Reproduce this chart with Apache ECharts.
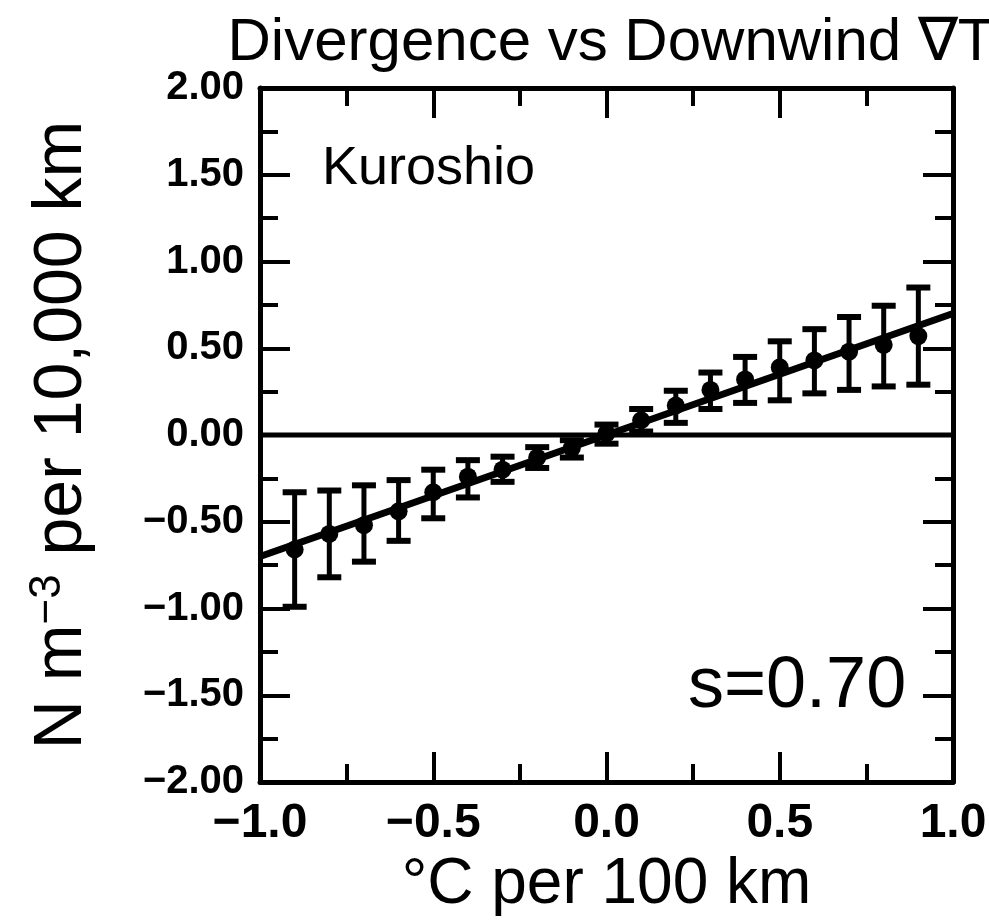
<!DOCTYPE html>
<html>
<head>
<meta charset="utf-8">
<script src="https://cdn.jsdelivr.net/npm/echarts@6/dist/echarts.min.js"></script>
<style>
  html, body { margin: 0; padding: 0; background: #fff; }
  #chart { width: 989px; height: 920px; }
</style>
</head>
<body>
<div id="chart"></div>
<script>
// Binned downwind SST gradient (°C per 100 km)
const gradBins = [-0.9, -0.8, -0.7, -0.6, -0.5, -0.4, -0.3, -0.2, -0.1, 0.0,
                  0.1, 0.2, 0.3, 0.4, 0.5, 0.6, 0.7, 0.8, 0.9];
// Bin-mean divergence (N m^-3 per 10,000 km)
const divMean = [-0.66, -0.57, -0.52, -0.44, -0.33, -0.24, -0.20, -0.13, -0.075, 0.01,
                 0.085, 0.17, 0.26, 0.32, 0.39, 0.43, 0.48, 0.52, 0.57];
// Error-bar limits
const divLow  = [-0.99, -0.82, -0.73, -0.61, -0.48, -0.36, -0.27, -0.19, -0.13, -0.05,
                 0.02, 0.07, 0.15, 0.185, 0.20, 0.24, 0.26, 0.28, 0.29];
const divHigh = [-0.33, -0.32, -0.29, -0.26, -0.20, -0.145, -0.125, -0.07, -0.03, 0.06,
                 0.15, 0.255, 0.36, 0.45, 0.54, 0.61, 0.68, 0.745, 0.85];
// Regression slope
const slope = 0.70;
const regionName = 'Kuroshio';

const xTicks = { min: -1, max: 1, interval: 0.5 };
const yTicks = { min: -2, max: 2, interval: 0.5 };

const minus = s => s.replace('-', '\u2212');
const FONT = '"Liberation Sans", Arial, Helvetica, sans-serif';
const BLACK = '#000';

function axisBase(decimals, showLabel, pos, labelSize) {
  return {
    type: 'value',
    position: pos,
    axisLine: { show: true, onZero: false, lineStyle: { color: BLACK, width: 5 } },
    axisTick: { show: true, inside: true, length: 30, lineStyle: { color: BLACK, width: 4 } },
    minorTick: { show: true, splitNumber: 2, length: 18, lineStyle: { color: BLACK, width: 4 } },
    splitLine: { show: false },
    minorSplitLine: { show: false },
    axisLabel: {
      show: showLabel,
      formatter: v => minus(v.toFixed(decimals)),
      fontFamily: FONT, fontSize: labelSize, fontWeight: 'bold', color: BLACK
    }
  };
}

const xBottom = Object.assign(axisBase(1, true, 'bottom', 48), xTicks, {
  name: '°C per 100 km', nameLocation: 'middle', nameGap: 70,
  nameTextStyle: { fontFamily: FONT, fontSize: 64, color: BLACK }
});
xBottom.axisLabel.margin = 18;
const xTop = Object.assign(axisBase(1, false, 'top', 48), xTicks);

const yLeft = Object.assign(axisBase(2, true, 'left', 40), yTicks, {
  name: '{t|N m}{s|\u22123}{t| per 10,000 km}', nameLocation: 'middle', nameGap: 162, nameRotate: 90,
  nameTextStyle: {
    rich: {
      t: { fontFamily: FONT, fontSize: 68, color: BLACK },
      s: { fontFamily: FONT, fontSize: 44, color: BLACK, verticalAlign: 'top', padding: [0, 0, 28, 0] }
    }
  }
});
yLeft.axisLabel.margin = 16;
const yRight = Object.assign(axisBase(2, false, 'right', 40), yTicks);

const points = gradBins.map((x, i) => [x, divMean[i]]);
const bars = gradBins.map((x, i) => [x, divLow[i], divHigh[i]]);

const option = {
  backgroundColor: '#fff',
  animation: false,
  title: {
    text: 'Divergence vs Downwind \u2207T',
    left: 606, top: 8, textAlign: 'center',
    textStyle: { fontFamily: FONT, fontSize: 60, fontWeight: 'normal', color: BLACK }
  },
  grid: { left: 260, right: 36, top: 88, bottom: 138, containLabel: false, outerBoundsMode: 'none' },
  xAxis: [xBottom, xTop],
  yAxis: [yLeft, yRight],
  series: [
    {
      type: 'line', data: [[xTicks.min, 0], [xTicks.max, 0]],
      symbol: 'none', lineStyle: { color: BLACK, width: 5 }, z: 2
    },
    {
      type: 'line', data: [[xTicks.min, slope * xTicks.min], [xTicks.max, slope * xTicks.max]],
      symbol: 'none', lineStyle: { color: BLACK, width: 7 }, z: 3
    },
    {
      type: 'custom', data: bars, z: 4,
      renderItem: (params, api) => {
        const x = api.value(0);
        const lo = api.coord([x, api.value(1)]);
        const hi = api.coord([x, api.value(2)]);
        const hw = 12;
        const style = { stroke: BLACK, lineWidth: 5 };
        const cap = { stroke: BLACK, lineWidth: 6 };
        return {
          type: 'group',
          children: [
            { type: 'line', shape: { x1: lo[0], y1: lo[1], x2: hi[0], y2: hi[1] }, style },
            { type: 'line', shape: { x1: lo[0] - hw, y1: lo[1], x2: lo[0] + hw, y2: lo[1] }, style: cap },
            { type: 'line', shape: { x1: hi[0] - hw, y1: hi[1], x2: hi[0] + hw, y2: hi[1] }, style: cap }
          ]
        };
      }
    },
    {
      type: 'scatter', data: points, symbol: 'circle', symbolSize: 18,
      itemStyle: { color: BLACK, opacity: 1 }, z: 5
    }
  ],
  graphic: [
    {
      type: 'text', left: 322, top: 142,
      style: { text: regionName, fontFamily: FONT, fontSize: 54, fill: BLACK }
    },
    {
      type: 'text', left: 688, top: 651,
      style: { text: 's=' + slope.toFixed(2), fontFamily: FONT, fontSize: 72, fill: BLACK }
    }
  ]
};

const chart = echarts.init(document.getElementById('chart'), null, { renderer: 'canvas' });
chart.setOption(option);
</script>
</body>
</html>
